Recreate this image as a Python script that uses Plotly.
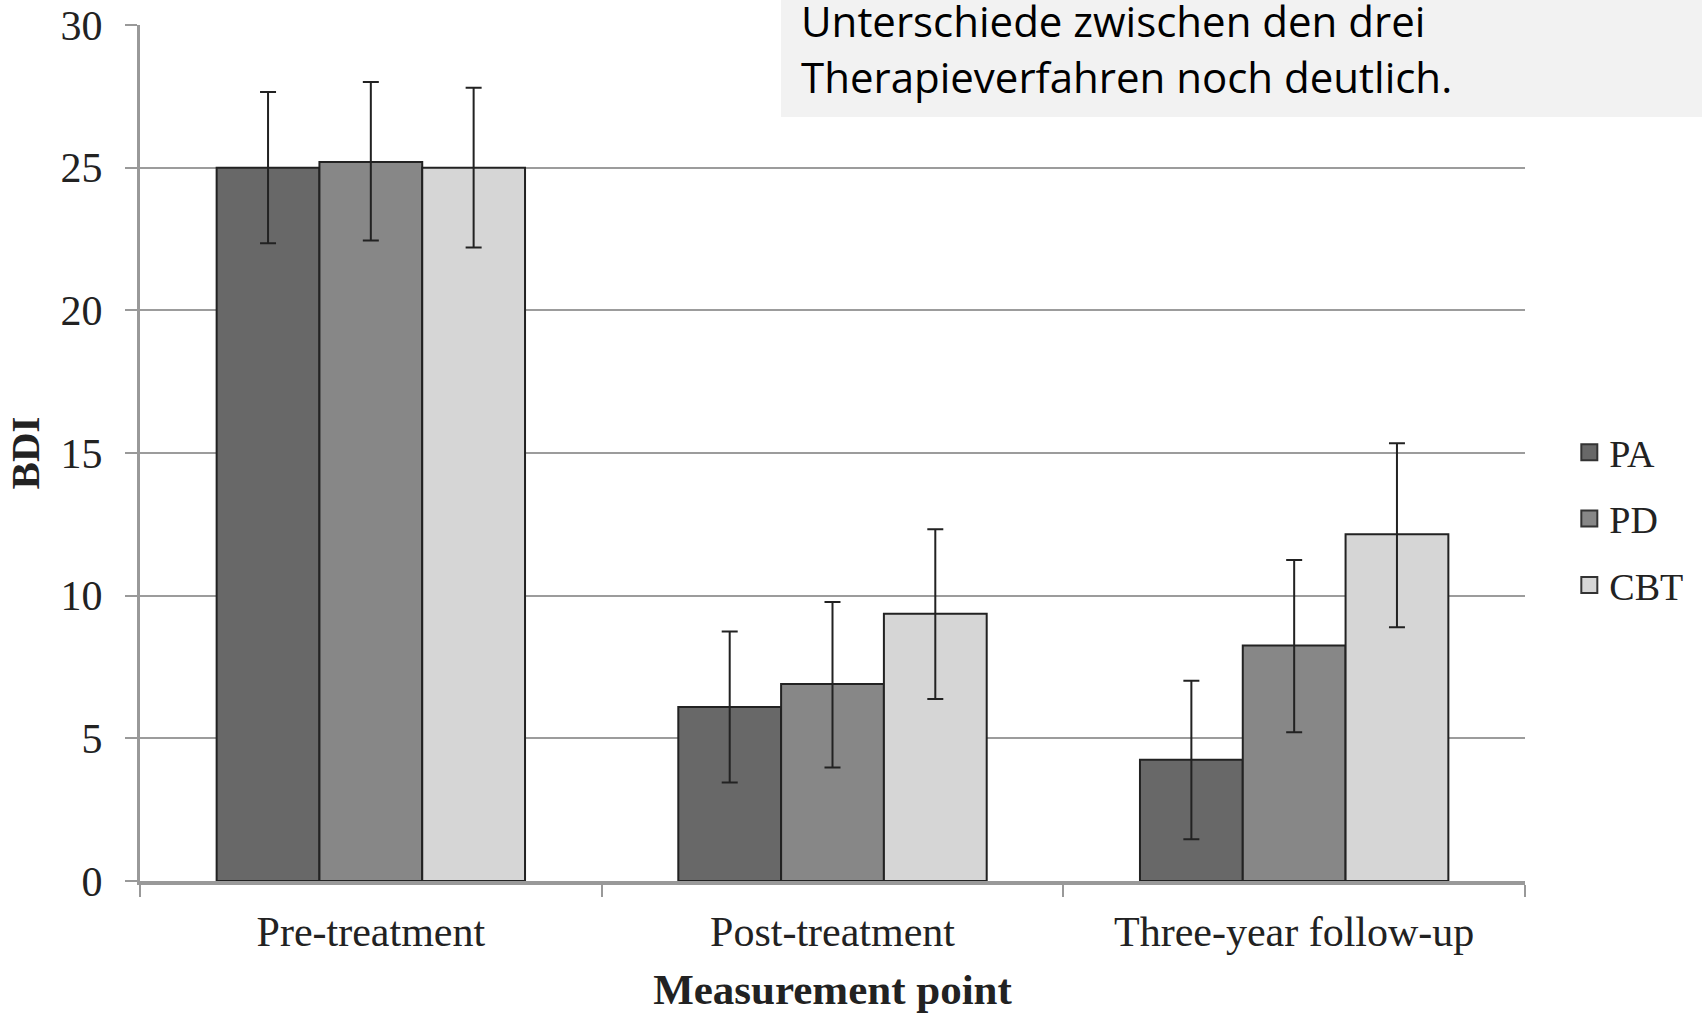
import plotly.graph_objects as go

categories = ["Pre-treatment", "Post-treatment", "Three-year follow-up"]
series_names = ["PA", "PD", "CBT"]

pa_mean = [25.0, 6.1, 4.25]
pd_mean = [25.2, 6.9, 8.25]
cbt_mean = [25.0, 9.37, 12.15]

pa_upper = [27.65, 8.74, 7.02]
pd_upper = [28.0, 9.78, 11.25]
cbt_upper = [27.8, 12.33, 15.34]

pa_lower = [22.35, 3.45, 1.46]
pd_lower = [22.45, 3.98, 5.21]
cbt_lower = [22.2, 6.38, 8.89]

y_ticks = [0, 5, 10, 15, 20, 25, 30]

note_lines = ["Unterschiede zwischen den drei", "Therapieverfahren noch deutlich."]

colors = ["#686868", "#878787", "#d6d6d6"]
means = [pa_mean, pd_mean, cbt_mean]
uppers = [pa_upper, pd_upper, cbt_upper]
lowers = [pa_lower, pd_lower, cbt_lower]

W, H = 1702, 1013
L, R, T, B = 140, 177, 25, 132
pw, ph = W - L - R, H - T - B

def px_x(x):
    return (x - L) / pw

def px_y(y):
    return (H - B - y) / ph

serif = "Liberation Serif"

fig = go.Figure()
for i, name in enumerate(series_names):
    m = means[i]
    up = [u - v for u, v in zip(uppers[i], m)]
    dn = [v - l for v, l in zip(m, lowers[i])]
    fig.add_trace(go.Bar(
        name=name, x=categories, y=m,
        legendgroup=name, showlegend=False,
        marker=dict(color=colors[i], line=dict(color="#222222", width=2)),
        error_y=dict(type="data", symmetric=False, array=up, arrayminus=dn,
                     color="#222222", thickness=2, width=8),
    ))
# legend entries (larger square swatches)
for i, name in enumerate(series_names):
    fig.add_trace(go.Scatter(
        name=name, x=[None], y=[None], mode="markers", legendgroup=name,
        marker=dict(symbol="square", size=22, color=colors[i],
                    line=dict(color="#333333", width=2)),
        showlegend=True, hoverinfo="skip",
    ))

fig.update_layout(
    width=W, height=H,
    margin=dict(l=L, r=R, t=T, b=B, pad=0, autoexpand=False),
    paper_bgcolor="white", plot_bgcolor="white",
    barmode="group", bargap=0.332, bargroupgap=0,
    showlegend=True,
    legend=dict(x=1.032, xanchor="left", y=px_y(519), yanchor="middle",
                font=dict(family=serif, size=38, color="#222222"),
                tracegroupgap=14, bgcolor="rgba(0,0,0,0)", itemsizing="trace"),
    xaxis=dict(type="category", showline=True, linecolor="#999999", linewidth=4,
               ticks="outside", tickson="boundaries", ticklen=12, tickwidth=2,
               tickcolor="#999999", showgrid=False, automargin=False,
               ticklabelstandoff=11,
               tickfont=dict(family=serif, size=42, color="#222222"),
               title=dict(text="<b>Measurement point</b>", standoff=23,
                          font=dict(family=serif, size=43, color="#222222"))),
    yaxis=dict(range=[0, 30], tickvals=y_ticks, showline=True, linecolor="#999999",
               linewidth=3, ticks="outside", ticklen=12, tickwidth=2, tickcolor="#999999",
               showgrid=True, gridcolor="#9c9c9c", gridwidth=2, zeroline=False,
               automargin=False, ticklabelstandoff=14,
               tickfont=dict(family=serif, size=42, color="#222222"),
               title=dict(text="<b>BDI</b>", standoff=9,
                          font=dict(family=serif, size=41, color="#222222"))),
)

fig.add_shape(type="rect", xref="paper", yref="paper",
              x0=px_x(781), x1=px_x(1702), y0=px_y(117), y1=px_y(0),
              fillcolor="#f2f2f2", line=dict(width=0), layer="above")

note_centers = [21, 77]
for j, line in enumerate(note_lines):
    fig.add_annotation(xref="paper", yref="paper", x=px_x(799), y=px_y(note_centers[j]),
                       xanchor="left", yanchor="middle", showarrow=False, text=line,
                       font=dict(family="Open Sans", size=42, color="#000000"))

fig.write_html("out.html", config={"displayModeBar": False},
               post_script="document.body.style.margin='0';document.body.style.overflow='hidden';")
